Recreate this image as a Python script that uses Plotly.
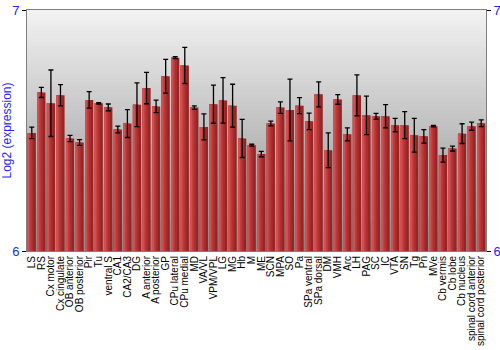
import plotly.graph_objects as go

categories = ["LS", "RS", "Cx motor", "Cx cingulate", "OB anterior", "OB posterior", "Pir", "Tu",
              "ventral S", "CA1", "CA2/CA3", "DG", "A anterior", "A posterior", "GP", "CPu lateral",
              "CPu medial", "MD", "VA/VL", "VPM/VPL", "LG", "MG", "Hb", "M", "ME", "SCN", "MPA", "SO",
              "Pa", "SPa ventral", "SPa dorsal", "DM", "VMH", "Arc", "LH", "PAG", "SC", "IC", "VTA",
              "SN", "Tg", "Pn", "MVe", "Cb vermis", "Cb lobe", "Cb nucleus", "spinal cord anterior",
              "spinal cord posterior"]

values = [6.490, 6.658, 6.613, 6.646, 6.467, 6.450, 6.627, 6.613,
          6.596, 6.504, 6.529, 6.607, 6.676, 6.600, 6.725, 6.802,
          6.770, 6.595, 6.515, 6.609, 6.625, 6.603, 6.467, 6.439,
          6.402, 6.529, 6.595, 6.585, 6.603, 6.538, 6.650, 6.418,
          6.629, 6.484, 6.646, 6.563, 6.559, 6.559, 6.522, 6.522,
          6.480, 6.476, 6.518, 6.398, 6.425, 6.487, 6.518, 6.530]

errors = [0.024, 0.021, 0.138, 0.044, 0.013, 0.012, 0.034, 0.003,
          0.014, 0.014, 0.058, 0.091, 0.065, 0.026, 0.070, 0.004,
          0.075, 0.007, 0.054, 0.079, 0.094, 0.089, 0.079, 0.004,
          0.011, 0.010, 0.024, 0.128, 0.033, 0.034, 0.052, 0.072,
          0.020, 0.027, 0.085, 0.080, 0.012, 0.048, 0.028, 0.056,
          0.070, 0.028, 0.003, 0.029, 0.010, 0.041, 0.017, 0.014]

y_ticks = [6, 7]

fig = go.Figure()

# bar body with horizontal shading (strips drawn through the same category axis)
strips = [
    (0.86, -0.43, "#962424"),
    (0.62, -0.43, "#a92d2d"),
    (0.42, -0.43, "#b93838"),
    (0.24, -0.41, "#c64444"),
    (0.10, -0.40, "#cf5050"),
]
for w, off, col in strips:
    fig.add_trace(go.Bar(
        x=categories, y=values, width=w, offset=off,
        marker=dict(color=col, line=dict(width=0)),
        hoverinfo="skip", showlegend=False,
    ))

# error bars
fig.add_trace(go.Scatter(
    x=categories, y=values, mode="markers",
    marker=dict(size=1, color="rgba(0,0,0,0)"),
    error_y=dict(type="data", array=errors, visible=True, color="black", thickness=1.3, width=2.5),
    showlegend=False,
))

# invisible trace to show the right-hand axis
fig.add_trace(go.Scatter(x=categories[:1], y=[6.5], yaxis="y2", mode="markers",
                         marker=dict(size=1, color="rgba(0,0,0,0)"), showlegend=False, hoverinfo="skip"))

# background gradient
n = 60
top = (242, 242, 242)
bot = (140, 140, 140)
for i in range(n):
    t = i / (n - 1)
    c = tuple(int(round(top[k] + (bot[k] - top[k]) * t)) for k in range(3))
    fig.add_shape(type="rect", xref="paper", yref="paper", x0=0, x1=1,
                  y0=1 - (i + 1) / n, y1=1 - i / n + 0.002,
                  fillcolor="rgb(%d,%d,%d)" % c, line=dict(width=0), layer="below")

fig.update_layout(
    width=500, height=350,
    margin=dict(l=27, r=14, t=10, b=99, autoexpand=False),
    barmode="overlay",
    paper_bgcolor="white",
    plot_bgcolor="rgba(0,0,0,0)",
    font=dict(family="Liberation Sans, Arial, sans-serif"),
    xaxis=dict(
        tickmode="array", tickvals=categories, ticktext=categories,
        tickangle=-90, tickfont=dict(size=10, color="black"), automargin=False,
        showgrid=False, showline=True, mirror=True, linecolor="#7f7f7f", linewidth=1,
        ticks="", ticklabelstandoff=0, range=[-0.5, len(categories) - 0.5],
    ),
    yaxis=dict(
        range=[6, 7], tickvals=y_ticks, ticktext=[str(v) for v in y_ticks],
        tickfont=dict(size=13, color="#1f1fff"), showgrid=False, automargin=False,
        showline=True, linecolor="#7f7f7f", linewidth=1,
        ticks="outside", ticklen=4, tickcolor="black",
        title=dict(text="Log2 (expression)", font=dict(size=12, color="#1f1fff"), standoff=2),
        zeroline=False,
    ),
    yaxis2=dict(
        range=[6, 7], tickvals=y_ticks, ticktext=[str(v) for v in y_ticks],
        overlaying="y", side="right", showgrid=False, automargin=False,
        tickfont=dict(size=13, color="#1f1fff"),
        showline=True, linecolor="#7f7f7f", linewidth=1,
        ticks="outside", ticklen=4, tickcolor="black", zeroline=False,
    ),
)

fig.write_html("out.html")
